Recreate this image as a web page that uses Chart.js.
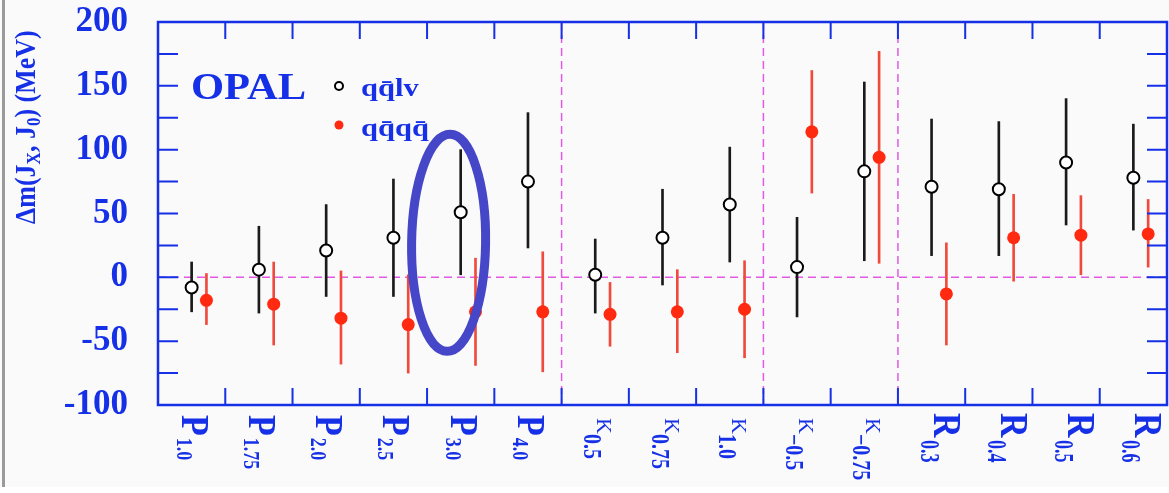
<!DOCTYPE html>
<html>
<head>
<meta charset="utf-8">
<script src="https://cdn.jsdelivr.net/npm/chart.js@4.4.1/dist/chart.umd.min.js"></script>
<style>
  html, body { margin: 0; padding: 0; background: #ffffff; }
  #wrap { width: 1169px; height: 493px; }
</style>
</head>
<body>
<div id="wrap"><canvas id="massChart" width="1169" height="493"></canvas></div>
<script>
// Категории (буква + индекс)
const labelMain = ['P', 'P', 'P', 'P', 'P', 'P', 'K', 'K', 'K', 'K', 'K', 'R', 'R', 'R', 'R'];
const labelSub = ['1.0', '1.75', '2.0', '2.5', '3.0', '4.0', '0.5', '0.75', '1.0', '\u22120.5', '\u22120.75', '0.3', '0.4', '0.5', '0.6'];

// qq̄lv (открытые кружки)
const qqlvMass = [-8, 6, 21, 31, 51, 75, 2, 31, 57, 8, 83, 71, 69, 90, 78];
const qqlvHigh = [12, 40, 57, 77, 100, 129, 30, 69, 102, 47, 153, 124, 122, 140, 120];
const qqlvLow = [-27, -28, -15, -15, 2, 23, -28, -6, 12, -31, 13, 17, 17, 41, 37];

// qq̄qq̄ (красные точки)
const qqqqMass = [-18, -21, -32, -37, -27, -27, -29, -27, -25, 114, 94, -13, 31, 33, 34];
const qqqqHigh = [3, 12, 5, 2, 15, 20, -4, 6, 13, 162, 177, 27, 65, 64, 61];
const qqqqLow = [-37, -53, -68, -75, -69, -74, -54, -59, -63, 66, 11, -53, -3, 2, 8];

// границы групп P | K | K- | R
const dividers = [6, 9, 11];

const SERIF = '"Liberation Serif", "Times New Roman", serif';
const BLUE = '#1530e6';

const labelStyle = {
    P: { font: 'bold 34px', scale: 1.15, main: -10, sub: -15, start: 415, gap: 2, subFont: 'bold 18px', subScale: 1.3 },
    K: { font: '22px', scale: 1.0, main: 2, sub: -11, start: 418, gap: 0, subFont: 'bold 20px', subScale: 1.25 },
    R: { font: 'bold 34px', scale: 1.15, main: 2, sub: -11, start: 413, gap: 2.5, subFont: 'bold 18px', subScale: 1.5 }
};

function rotText(ctx, text, font, bx, by, sy) {
    ctx.save();
    ctx.translate(bx, by);
    ctx.rotate(Math.PI / 2);
    ctx.scale(1, sy);
    ctx.font = font + ' ' + SERIF;
    ctx.textAlign = 'left';
    ctx.textBaseline = 'alphabetic';
    ctx.fillText(text, 0, 0);
    const w = ctx.measureText(text).width;
    ctx.restore();
    return w;
}

function wideText(ctx, text, font, x, y, sx) {
    ctx.save();
    ctx.translate(x, y);
    ctx.scale(sx, 1);
    ctx.font = font + ' ' + SERIF;
    ctx.textAlign = 'left';
    ctx.textBaseline = 'alphabetic';
    ctx.fillText(text, 0, 0);
    ctx.restore();
}

const decorPlugin = {
    id: 'decor',
    beforeDraw(chart) {
        const ctx = chart.ctx;
        ctx.save();
        ctx.fillStyle = '#fafafa';
        ctx.fillRect(0, 0, chart.width, 487);
        ctx.fillStyle = '#9a9a9a';
        ctx.fillRect(2, 0, 3, 487);
        ctx.restore();
    },
    beforeDatasetsDraw(chart) {
        const { ctx, chartArea: a, scales: { x, y } } = chart;
        ctx.save();
        ctx.strokeStyle = '#e25ae2';
        ctx.lineWidth = 1.5;
        ctx.setLineDash([8, 5]);
        ctx.beginPath();
        const y0 = y.getPixelForValue(0);
        ctx.moveTo(a.left, y0);
        ctx.lineTo(a.right, y0);
        dividers.forEach(d => {
            const px = x.getPixelForValue(d);
            ctx.moveTo(px, a.top);
            ctx.lineTo(px, a.bottom);
        });
        ctx.stroke();
        ctx.restore();
    },
    afterDatasetsDraw(chart) {
        const { ctx, chartArea: a, scales: { x, y } } = chart;
        ctx.save();

        // рамка и внутренние засечки
        ctx.strokeStyle = BLUE;
        ctx.lineWidth = 2.5;
        ctx.strokeRect(a.left, a.top, a.right - a.left, a.bottom - a.top);
        ctx.lineWidth = 2;
        ctx.beginPath();
        for (let i = 1; i < labelMain.length; i++) {
            const px = x.getPixelForValue(i);
            ctx.moveTo(px, a.top); ctx.lineTo(px, a.top + 17);
            ctx.moveTo(px, a.bottom); ctx.lineTo(px, a.bottom - 17);
        }
        for (let v = -75; v < 200; v += 25) {
            const py = y.getPixelForValue(v);
            ctx.moveTo(a.left, py); ctx.lineTo(a.left + 20, py);
            ctx.moveTo(a.right, py); ctx.lineTo(a.right - 20, py);
        }
        ctx.stroke();

        // подписи категорий
        ctx.fillStyle = BLUE;
        labelMain.forEach((m, i) => {
            const st = labelStyle[m];
            const cx = x.getPixelForValue(i + 0.5);
            const w = rotText(ctx, m, st.font, cx + st.main, st.start, st.scale);
            rotText(ctx, labelSub[i], st.subFont, cx + st.sub, st.start + w + st.gap, st.subScale);
        });

        // подпись оси Y
        ctx.save();
        ctx.translate(35, 224);
        ctx.rotate(-Math.PI / 2);
        ctx.scale(1, 1.15);
        ctx.textBaseline = 'alphabetic';
        let cur = 0;
        [['\u0394m(J', 26, 0], ['X', 17, 4], [', J', 26, 0], ['0', 17, 4], [') (MeV)', 26, 0]].forEach(([t, size, dy]) => {
            ctx.font = 'bold ' + size + 'px ' + SERIF;
            ctx.fillText(t, cur, dy);
            cur += ctx.measureText(t).width;
        });
        ctx.restore();

        // легенда
        wideText(ctx, 'OPAL', 'bold 37px', 191, 99, 1.15);
        wideText(ctx, 'qq\u0304lv', 'bold 25px', 361, 96, 1.22);
        wideText(ctx, 'qq\u0304qq\u0304', 'bold 25px', 361, 136, 1.22);
        ctx.beginPath();
        ctx.arc(339, 86, 4, 0, Math.PI * 2);
        ctx.fillStyle = '#ffffff';
        ctx.fill();
        ctx.lineWidth = 2;
        ctx.strokeStyle = '#000000';
        ctx.stroke();
        ctx.beginPath();
        ctx.arc(339, 125, 4.5, 0, Math.PI * 2);
        ctx.fillStyle = '#ff2a10';
        ctx.fill();

        ctx.restore();
    },
    afterDraw(chart) {
        const { ctx, scales: { x, y } } = chart;
        // выделение P3.0
        const cx = x.getPixelForValue(4.32);
        const cy = y.getPixelForValue(27);
        const rx = x.getPixelForValue(4.87) - cx;
        const ry = cy - y.getPixelForValue(112);
        ctx.save();
        ctx.strokeStyle = '#4646c8';
        ctx.lineWidth = 9;
        ctx.beginPath();
        ctx.ellipse(cx, cy, rx, ry, 0.015, 0, Math.PI * 2);
        ctx.stroke();
        ctx.restore();
    }
};

const ctx = document.getElementById('massChart').getContext('2d');
new Chart(ctx, {
    type: 'scatter',
    data: {
        datasets: [
            {
                type: 'bar',
                label: 'qqlv err',
                data: qqlvHigh.map((h, i) => ({ x: i + 0.5, y: [qqlvLow[i], h] })),
                backgroundColor: '#1a1a1a',
                barThickness: 2,
                grouped: false,
                order: 3
            },
            {
                type: 'bar',
                label: 'qqqq err',
                data: qqqqHigh.map((h, i) => ({ x: i + 0.72, y: [qqqqLow[i], h] })),
                backgroundColor: '#f04a3c',
                barThickness: 2,
                grouped: false,
                order: 2
            },
            {
                label: 'qq\u0304lv',
                data: qqlvMass.map((v, i) => ({ x: i + 0.5, y: v })),
                pointRadius: 6,
                pointBorderWidth: 2,
                pointBackgroundColor: '#ffffff',
                pointBorderColor: '#000000',
                order: 1
            },
            {
                label: 'qq\u0304qq\u0304',
                data: qqqqMass.map((v, i) => ({ x: i + 0.72, y: v })),
                pointRadius: 6.5,
                pointBorderWidth: 0,
                pointBackgroundColor: '#ff2a10',
                order: 0
            }
        ]
    },
    options: {
        responsive: false,
        animation: false,
        layout: { autoPadding: false, padding: { left: 0, top: 22, right: 2, bottom: 88 } },
        plugins: {
            legend: { display: false },
            tooltip: { enabled: false }
        },
        scales: {
            x: {
                type: 'linear',
                min: 0,
                max: labelMain.length,
                offset: false,
                ticks: { display: false },
                grid: { display: false, drawTicks: false },
                border: { display: false }
            },
            y: {
                type: 'linear',
                min: -100,
                max: 200,
                afterFit: s => { s.width = 158; },
                ticks: {
                    stepSize: 50,
                    autoSkip: false,
                    padding: 0,
                    color: BLUE,
                    font: { family: 'Liberation Serif', size: 35, weight: 'bold' }
                },
                // tickLength only shifts the labels away from the frame
                grid: { display: false, drawTicks: true, tickLength: 30 },
                border: { display: false }
            }
        }
    },
    plugins: [decorPlugin]
});
</script>
</body>
</html>
